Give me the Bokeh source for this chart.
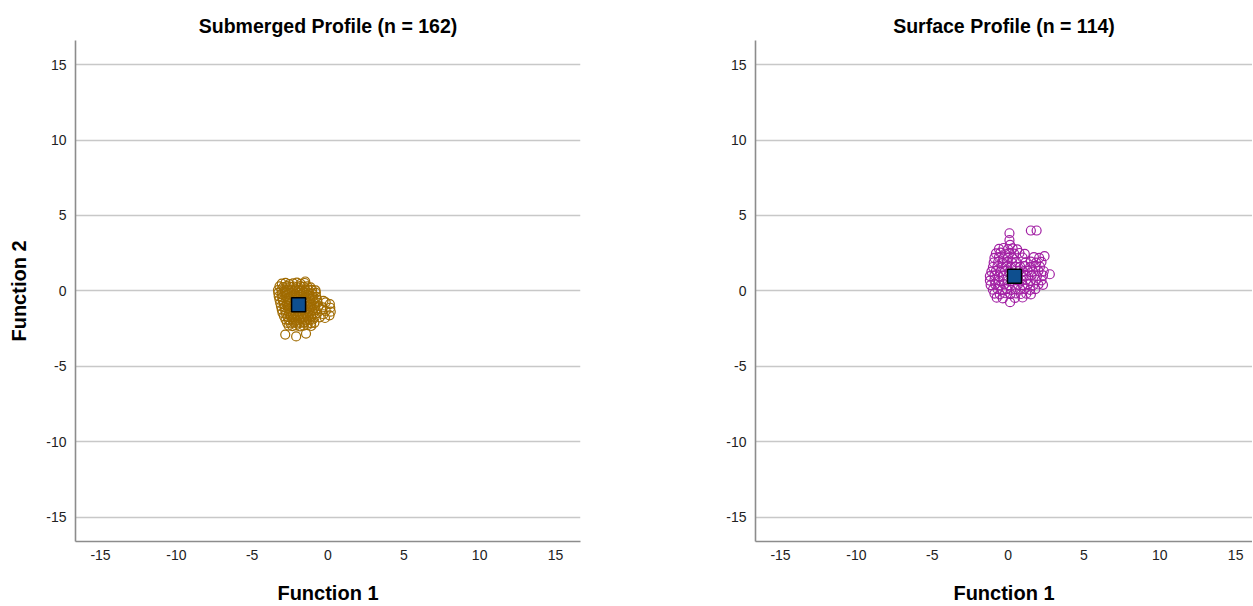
from bokeh.plotting import figure
from bokeh.layouts import row
from bokeh.models import FixedTicker, Range1d
from bokeh.embed import file_html
from bokeh.resources import INLINE

# ---------------- data ----------------
ticks = [-15, -10, -5, 0, 5, 10, 15]
tick_labels = ["-15", "-10", "-5", "0", "5", "10", "15"]

sub_title = "Submerged Profile (n = 162)"
sub_x = [
    -3.05, -2.8, -2.55, -2.3, -2.05, -1.8, -1.55,
    -3.2, -2.95, -2.72, -2.5, -2.27, -2.05, -1.82, -1.6, -1.37, -1.15,
    -3.3, -3.07, -2.85, -2.62, -2.4, -2.17, -1.95, -1.72, -1.5, -1.27, -1.05, -0.82,
    -3.28, -3.05, -2.82, -2.6, -2.37, -2.15, -1.92, -1.7, -1.47, -1.25, -1.02, -0.8,
    -3.25, -3.02, -2.8, -2.57, -2.35, -2.12, -1.9, -1.67, -1.45, -1.22, -1.0, -0.77,
    -3.2, -2.97, -2.75, -2.52, -2.3, -2.07, -1.85, -1.62, -1.4, -1.17, -0.95, -0.72, -0.3,
    -3.15, -2.92, -2.7, -2.47, -2.25, -2.02, -1.8, -1.57, -1.35, -1.12, -0.9, -0.68, -0.15, 0.12,
    -3.1, -2.87, -2.65, -2.42, -2.2, -1.97, -1.75, -1.52, -1.3, -1.07, -0.85, -0.62, -0.35, 0.15,
    -3.05, -2.82, -2.6, -2.37, -2.15, -1.92, -1.7, -1.47, -1.25, -1.02, -0.8, -0.45, -0.15, 0.18,
    -3.0, -2.77, -2.55, -2.32, -2.1, -1.87, -1.65, -1.42, -1.2, -0.97, -0.75, -0.3, 0.1,
    -2.9, -2.67, -2.45, -2.22, -2.0, -1.77, -1.55, -1.32, -1.1, -0.87, -0.55, -0.2,
    -2.8, -2.57, -2.35, -2.12, -1.9, -1.67, -1.45, -1.22, -1.0,
    -2.7, -2.47, -2.25, -2.02, -1.8, -1.57, -1.35, -1.12, -0.9,
    -2.6, -2.35, -2.1, -1.85, -1.6, -1.35, -1.1,
    -2.82, -2.1, -1.45, -1.5,
]
sub_y = [
    0.48, 0.53, 0.45, 0.5, 0.55, 0.46, 0.52,
    0.3, 0.25, 0.32, 0.27, 0.29, 0.24, 0.31, 0.26, 0.3, 0.23,
    0.05, 0.09, 0.03, 0.08, 0.04, 0.1, 0.06, 0.02, 0.09, 0.05, 0.07, 0.03,
    -0.14, -0.19, -0.13, -0.17, -0.15, -0.2, -0.12, -0.18, -0.14, -0.16, -0.19, -0.13,
    -0.36, -0.4, -0.35, -0.41, -0.37, -0.34, -0.39, -0.36, -0.42, -0.35, -0.38, -0.4,
    -0.58, -0.62, -0.57, -0.63, -0.59, -0.56, -0.61, -0.6, -0.64, -0.57, -0.62, -0.59, -0.66,
    -0.8, -0.85, -0.79, -0.84, -0.81, -0.78, -0.86, -0.82, -0.8, -0.85, -0.83, -0.79, -0.76, -0.88,
    -1.02, -1.06, -1.01, -1.07, -1.03, -1.0, -1.08, -1.04, -1.02, -1.06, -1.05, -1.01, -1.09, -1.12,
    -1.24, -1.28, -1.23, -1.29, -1.25, -1.22, -1.3, -1.26, -1.24, -1.28, -1.27, -1.23, -1.33, -1.38,
    -1.46, -1.5, -1.45, -1.51, -1.47, -1.44, -1.52, -1.48, -1.46, -1.5, -1.49, -1.55, -1.62,
    -1.68, -1.72, -1.67, -1.73, -1.69, -1.66, -1.74, -1.7, -1.68, -1.72, -1.76, -1.8,
    -1.9, -1.94, -1.89, -1.95, -1.91, -1.88, -1.96, -1.92, -1.9,
    -2.12, -2.16, -2.11, -2.17, -2.13, -2.1, -2.18, -2.14, -2.12,
    -2.3, -2.34, -2.29, -2.35, -2.31, -2.28, -2.33,
    -2.9, -3.02, -2.83, 0.62,
]
sub_centroid = (-1.94, -0.92)

surf_title = "Surface Profile (n = 114)"
surf_x = [
    -0.6, -0.3, 0.0, 0.3, 0.6,
    -0.8, -0.5, -0.2, 0.1, 0.4, 0.75, 1.1,
    -0.9, -0.6, -0.3, 0.0, 0.3, 0.95, 1.7, 2.05, 2.4,
    -0.95, -0.65, -0.35, -0.05, 0.25, 0.55, 1.15, 1.5, 1.85, 2.2,
    -1.0, -0.7, -0.4, -0.1, 0.2, 0.5, 0.8, 1.1, 1.45, 1.8, 2.1,
    -1.1, -0.8, -0.5, -0.2, 0.1, 0.7, 1.0, 1.3, 1.65, 2.0, 2.35,
    -1.2, -0.9, -0.6, -0.3, 0.3, 0.9, 1.2, 1.55, 1.9, 2.3, 2.75,
    -1.2, -0.9, -0.6, -0.3, 0.0, 0.6, 0.9, 1.2, 1.5, 1.85, 2.2,
    -1.15, -0.85, -0.55, -0.25, 0.05, 0.65, 0.95, 1.3, 1.65, 2.0, 2.3,
    -1.0, -0.7, -0.4, -0.1, 0.2, 0.5, 0.8, 1.1, 1.45, 1.8,
    -0.9, -0.55, -0.2, 0.15, 0.5, 0.85, 1.2, 1.5,
    -0.75, -0.35, 0.45, 0.95,
    1.5, 1.88, 0.09, 0.09, 0.13, 0.13,
]
surf_y = [
    2.78, 2.84, 2.76, 2.82, 2.75,
    2.48, 2.53, 2.46, 2.52, 2.47, 2.51, 2.45,
    2.18, 2.23, 2.16, 2.22, 2.17, 2.21, 2.24, 2.19, 2.3,
    1.88, 1.93, 1.86, 1.92, 1.87, 1.91, 1.89, 1.94, 1.87, 1.92,
    1.58, 1.63, 1.56, 1.62, 1.57, 1.61, 1.59, 1.64, 1.57, 1.62, 1.6,
    1.28, 1.33, 1.26, 1.32, 1.27, 1.31, 1.29, 1.34, 1.27, 1.32, 1.3,
    0.98, 1.03, 0.96, 1.02, 0.97, 1.01, 0.99, 1.04, 0.97, 1.02, 1.1,
    0.68, 0.73, 0.66, 0.72, 0.67, 0.71, 0.69, 0.74, 0.67, 0.72, 0.7,
    0.38, 0.43, 0.36, 0.42, 0.37, 0.41, 0.39, 0.44, 0.37, 0.42, 0.4,
    0.08, 0.13, 0.06, 0.12, 0.07, 0.11, 0.09, 0.14, 0.07, 0.12,
    -0.18, -0.23, -0.16, -0.22, -0.17, -0.21, -0.19, -0.24,
    -0.45, -0.5, -0.47, -0.44,
    4.0, 4.0, 3.82, 3.36, 3.05, -0.75,
]
surf_centroid = (0.42, 0.97)

x_label = "Function 1"
y_label = "Function 2"

FONT = "Liberation Sans"


def panel(title, xs, ys, color, centroid, width, border_left, border_right, x_end, show_ylabel):
    p = figure(width=width, height=606, output_backend="svg", toolbar_location=None,
               x_range=Range1d(-16.65, x_end), y_range=Range1d(-16.62, 16.6),
               min_border_left=border_left, min_border_right=border_right,
               min_border_top=40, min_border_bottom=61)
    p.title.text = title
    p.title.align = "center"
    p.title.text_font = FONT
    p.title.text_font_size = "19.5px"
    p.title.text_font_style = "bold"
    p.title.text_color = "#000000"
    p.title.standoff = 7
    p.outline_line_color = None
    p.background_fill_color = "white"
    p.border_fill_color = "white"

    p.xgrid.grid_line_color = None
    p.ygrid.grid_line_color = "#c8c8c8"
    p.ygrid.grid_line_width = 1.6

    overrides = {t: s for t, s in zip(ticks, tick_labels)}
    for ax in (p.xaxis[0], p.yaxis[0]):
        ax.ticker = FixedTicker(ticks=ticks)
        ax.major_label_overrides = overrides
        ax.axis_line_color = "#8c8c8c"
        ax.axis_line_width = 1.6
        ax.major_tick_line_color = None
        ax.minor_tick_line_color = None
        ax.major_tick_out = 0
        ax.major_tick_in = 0
        ax.major_label_text_font = FONT
        ax.major_label_text_font_size = "14px"
        ax.major_label_text_color = "#222222"
        ax.axis_label_text_font = FONT
        ax.axis_label_text_font_size = "20px"
        ax.axis_label_text_font_style = "bold"
        ax.axis_label_text_color = "#000000"

    p.xaxis[0].axis_label = x_label
    p.xaxis[0].major_label_standoff = 8
    p.xaxis[0].axis_label_standoff = 19
    p.yaxis[0].major_label_standoff = 9
    if show_ylabel:
        p.yaxis[0].axis_label = y_label
        p.yaxis[0].axis_label_standoff = 13

    p.scatter(xs, ys, marker="circle", size=9, fill_color=None,
              line_color=color, line_width=1.2)
    p.scatter([centroid[0]], [centroid[1]], marker="square", size=14,
              fill_color="#0E4F8F", line_color="#000000", line_width=1.5)
    return p


p1 = panel(sub_title, sub_x, sub_y, "#A06B00", sub_centroid, 630, 75, 50, 16.65, True)
p2 = panel(surf_title, surf_x, surf_y, "#A11FA3", surf_centroid, 622, 125, 0, 16.11, False)

layout = row(p1, p2)
open("out.html", "w").write(file_html(layout, INLINE))
